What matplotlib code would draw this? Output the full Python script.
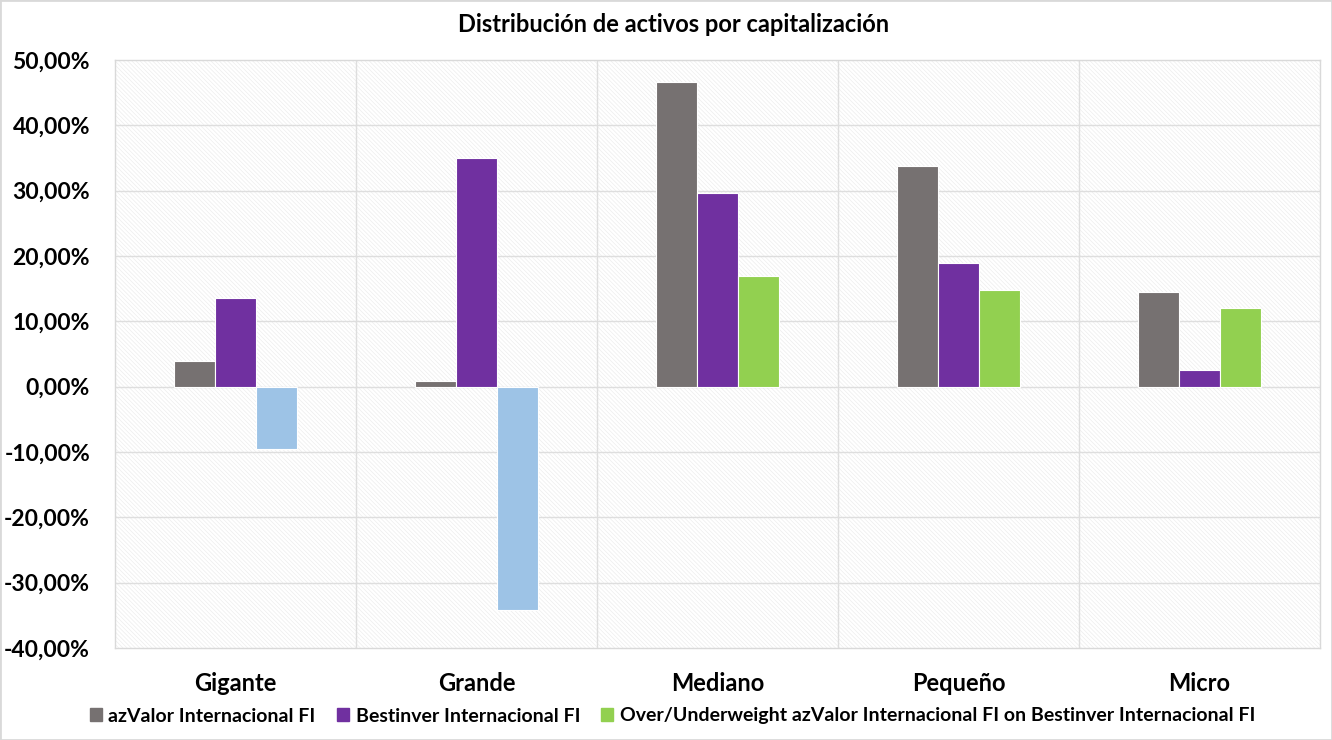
import numpy as np
from matplotlib import pyplot as plt
from matplotlib.patches import Rectangle, Patch
from matplotlib.ticker import FuncFormatter

categorias = ['Gigante', 'Grande', 'Mediano', 'Pequeño', 'Micro']
azvalor = [4.0, 0.8, 46.6, 33.8, 14.5]
bestinver = [13.5, 35.0, 29.7, 19.0, 2.5]
over_under = [-9.5, -34.2, 16.9, 14.8, 12.0]

series_names = ['azValor Internacional FI', 'Bestinver Internacional FI',
                'Over/Underweight azValor Internacional FI on Bestinver Internacional FI']

plt.rcParams['font.family'] = ['Lato', 'DejaVu Sans']
plt.rcParams['font.weight'] = 'bold'
plt.rcParams['hatch.linewidth'] = 0.5

fig = plt.figure(figsize=(13.32, 7.4), dpi=100)
ax = fig.add_axes([115 / 1332, 1 - 648 / 740, (1320 - 115) / 1332, (648 - 60) / 740])

# fondo rayado
ax.set_facecolor('white')
ax.add_patch(Rectangle((0, 0), 1, 1, transform=ax.transAxes, facecolor='white',
                       edgecolor='#ededed', linewidth=0, hatch='\\' * 8, zorder=0))

x = np.arange(len(categorias))
w = 0.17
ax.bar(x - w, azvalor, w, color='#767171', edgecolor='white', linewidth=0.8, zorder=3)
ax.bar(x, bestinver, w, color='#7030A0', edgecolor='white', linewidth=0.8, zorder=3)
col_over = ['#92D050' if v >= 0 else '#9DC3E6' for v in over_under]
ax.bar(x + w, over_under, w, color=col_over, edgecolor='white', linewidth=0.8, zorder=3)

ax.set_xlim(-0.5, len(categorias) - 0.5)
ax.set_ylim(-40, 50)
ax.set_yticks(np.arange(-40, 51, 10))
ax.yaxis.set_major_formatter(FuncFormatter(lambda v, p: f'{v:.2f}'.replace('.', ',') + '%'))
ax.set_xticks(x)
ax.set_xticklabels(categorias)
ax.tick_params(axis='y', length=0, labelsize=16.5, colors='black', pad=18)
ax.tick_params(axis='x', length=0, labelsize=17, colors='black', pad=17)

for yv in np.arange(-30, 50, 10):
    ax.axhline(yv, color='#dedede', linewidth=1, zorder=1)
for xv in x[:-1] + 0.5:
    ax.axvline(xv, color='#dedede', linewidth=1, zorder=1)
for s in ax.spines.values():
    s.set_color('#d9d9d9')
    s.set_linewidth(1)

fig.suptitle('Distribución de activos por capitalización', x=0.506, y=1 - 25 / 740,
             va='center', fontsize=17, fontweight='bold')

handles = [Patch(color='#767171'), Patch(color='#7030A0'), Patch(color='#92D050')]
fig.legend(handles, series_names, loc='center', bbox_to_anchor=(0.505, 1 - 716 / 740),
           ncol=3, frameon=False, fontsize=14, handlelength=0.6, handleheight=0.6,
           handletextpad=0.35, columnspacing=1.1)

fig.patches.append(Rectangle((0, 0), 1, 1, transform=fig.transFigure, fill=False,
                             edgecolor='#d9d9d9', linewidth=2))

fig.savefig('out.png', dpi=100)
